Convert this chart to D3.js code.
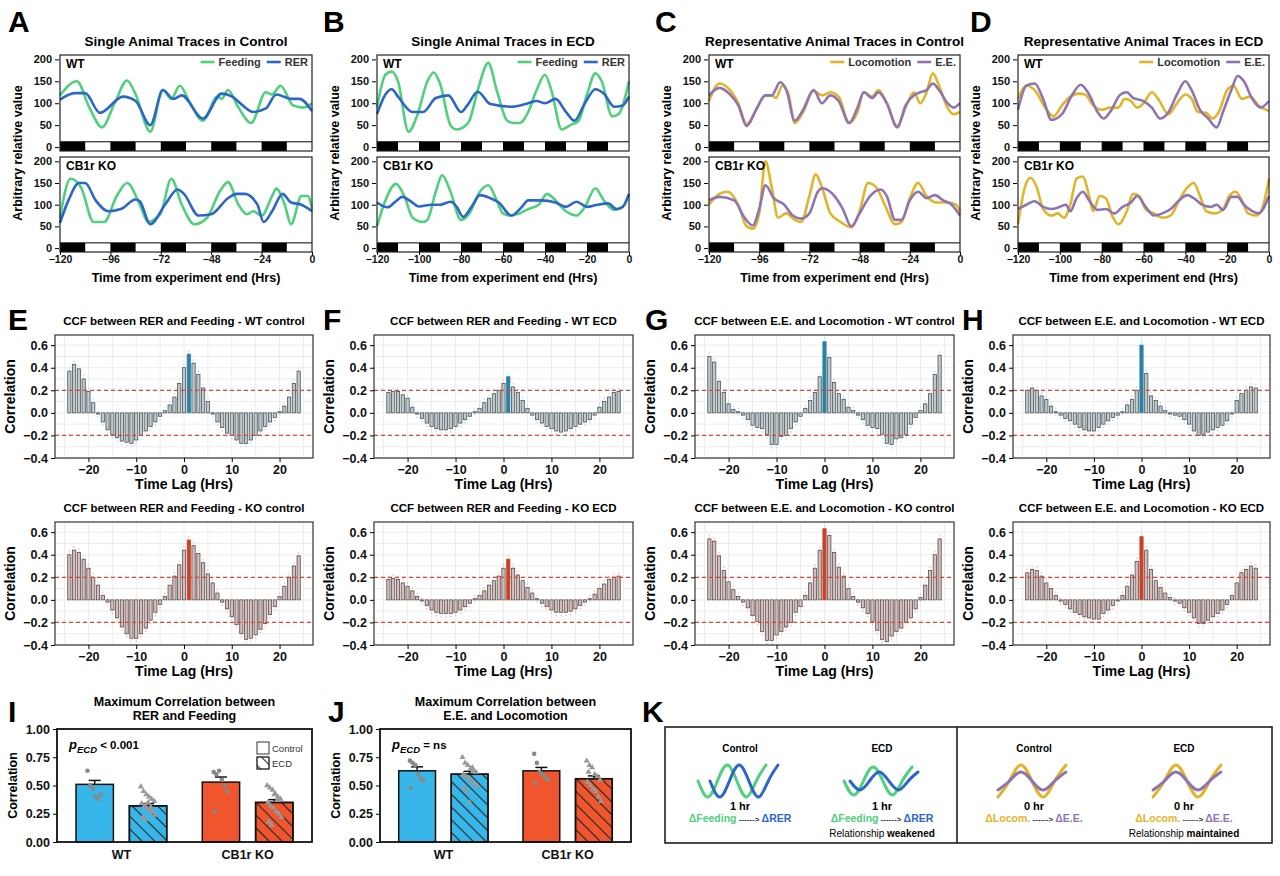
<!DOCTYPE html>
<html><head><meta charset="utf-8">
<script src="https://cdn.jsdelivr.net/npm/d3@7"></script>
<style>body{margin:0;background:#fff}svg{display:block}text{font-family:"Liberation Sans",Arial,sans-serif}</style>
</head><body><svg id="c" width="1280" height="876"></svg>
<script>
// ---------- DATA ----------
const A_WT_feed=[[-120,118],[-112,150],[-106,90],[-100,45],[-94,100],[-88,152],[-84,120],[-77,35],[-71,130],[-67,110],[-63,140],[-58,100],[-52,60],[-45,115],[-43,110],[-40,130],[-35,90],[-29,55],[-22,125],[-19,120],[-15,140],[-9,95],[-4,90],[0,100]];
const A_WT_rer=[[-120,108],[-113,123],[-108,123],[-101,78],[-90,115],[-84,105],[-77,50],[-71,130],[-66,110],[-62,118],[-52,65],[-43,122],[-38,115],[-33,95],[-28,80],[-22,88],[-17,120],[-10,110],[-6,110],[0,82]];
const A_KO_feed=[[-120,70],[-115,160],[-110,140],[-104,60],[-99,60],[-93,120],[-88,150],[-82,100],[-78,60],[-74,70],[-72,80],[-67,160],[-62,100],[-56,55],[-50,70],[-44,130],[-40,152],[-35,100],[-31,78],[-28,85],[-24,75],[-19,120],[-17,137],[-13,100],[-10,55],[-5,120],[-2,120],[0,90]];
const A_KO_rer=[[-120,58],[-116,110],[-111,150],[-108,150],[-103,110],[-97,85],[-91,90],[-84,112],[-82,108],[-77,55],[-70,100],[-64,135],[-61,125],[-54,75],[-48,78],[-40,115],[-36,125],[-32,125],[-26,100],[-23,60],[-19,85],[-14,125],[-10,105],[-5,100],[0,85]];
const B_WT_feed=[[-120,90],[-116,165],[-113,172],[-110,150],[-105,35],[-101,70],[-96,150],[-93,170],[-90,145],[-85,50],[-82,40],[-79,45],[-76,60],[-72,130],[-67,192],[-63,130],[-58,60],[-55,55],[-52,55],[-48,80],[-44,130],[-40,165],[-37,130],[-32,40],[-28,50],[-24,60],[-20,120],[-16,168],[-13,150],[-8,70],[-5,75],[0,150]];
const B_WT_rer=[[-120,75],[-116,120],[-113,132],[-110,115],[-103,80],[-98,80],[-92,112],[-86,118],[-80,80],[-77,95],[-72,126],[-66,98],[-56,92],[-48,100],[-44,105],[-40,100],[-35,110],[-30,80],[-26,60],[-21,100],[-16,132],[-12,122],[-7,92],[-3,95],[0,115]];
const B_KO_feed=[[-120,50],[-116,110],[-111,148],[-107,120],[-103,70],[-98,60],[-96,65],[-92,130],[-89,168],[-85,130],[-80,65],[-76,80],[-71,130],[-67,145],[-63,110],[-60,80],[-57,75],[-52,80],[-48,90],[-43,100],[-39,125],[-36,115],[-30,85],[-25,75],[-21,95],[-16,138],[-12,110],[-7,88],[-3,95],[0,125]];
const B_KO_rer=[[-120,105],[-115,94],[-111,108],[-108,118],[-104,108],[-100,96],[-94,100],[-90,100],[-85,107],[-82,95],[-79,72],[-75,95],[-71,122],[-66,115],[-62,105],[-56,75],[-51,95],[-48,110],[-42,110],[-35,105],[-30,95],[-25,107],[-20,95],[-15,100],[-10,103],[-6,90],[-3,95],[0,125]];
const C_WT_loco=[[-120,105],[-115,145],[-111,135],[-106,100],[-102,52],[-98,80],[-93,118],[-90,118],[-88,112],[-85,140],[-82,120],[-79,55],[-75,80],[-70,128],[-66,118],[-62,125],[-58,115],[-53,55],[-49,80],[-46,125],[-42,115],[-39,130],[-35,100],[-30,48],[-26,90],[-22,125],[-19,100],[-16,125],[-13,168],[-10,140],[-6,90],[-3,75],[0,80]];
const C_WT_ee=[[-120,118],[-115,135],[-110,120],[-106,95],[-102,48],[-97,90],[-93,118],[-90,118],[-86,148],[-83,130],[-79,60],[-75,85],[-70,130],[-66,100],[-62,118],[-58,105],[-53,55],[-49,90],[-46,125],[-42,112],[-39,125],[-35,100],[-30,45],[-26,95],[-22,118],[-19,125],[-16,130],[-13,145],[-10,130],[-6,100],[-3,90],[0,100]];
const C_KO_loco=[[-120,100],[-115,125],[-111,130],[-106,100],[-102,50],[-99,45],[-96,80],[-93,200],[-90,140],[-87,70],[-83,80],[-79,65],[-76,60],[-72,120],[-69,170],[-66,140],[-62,80],[-57,60],[-52,48],[-48,85],[-44,150],[-40,140],[-36,100],[-31,55],[-28,60],[-24,115],[-20,150],[-16,120],[-11,105],[-6,105],[-2,100],[0,85]];
const C_KO_ee=[[-120,110],[-115,118],[-108,110],[-103,70],[-99,52],[-96,90],[-93,145],[-89,115],[-84,100],[-80,75],[-76,68],[-72,80],[-68,130],[-66,138],[-60,120],[-56,90],[-52,50],[-48,80],[-43,120],[-38,135],[-35,120],[-31,65],[-28,65],[-24,110],[-20,130],[-16,115],[-12,122],[-8,110],[-4,100],[0,75]];
const D_WT_loco=[[-120,110],[-116,140],[-112,130],[-107,90],[-103,70],[-99,95],[-95,115],[-91,122],[-88,120],[-84,95],[-80,85],[-76,90],[-72,90],[-69,110],[-66,105],[-63,90],[-60,100],[-56,125],[-53,110],[-48,75],[-44,100],[-40,120],[-37,110],[-34,80],[-30,78],[-27,65],[-24,80],[-20,130],[-17,140],[-13,110],[-9,115],[-5,95],[0,82]];
const D_WT_ee=[[-120,85],[-116,140],[-112,145],[-108,110],[-104,62],[-99,75],[-94,120],[-90,142],[-86,120],[-82,80],[-79,65],[-76,80],[-71,120],[-68,125],[-65,112],[-60,105],[-56,90],[-52,65],[-48,80],[-44,120],[-40,150],[-37,130],[-33,85],[-29,65],[-25,45],[-22,80],[-18,130],[-15,162],[-12,150],[-8,110],[-4,90],[0,105]];
const D_KO_loco=[[-120,55],[-117,135],[-114,162],[-111,140],[-108,90],[-104,75],[-101,80],[-98,70],[-95,100],[-92,160],[-89,165],[-86,120],[-84,85],[-81,120],[-78,115],[-75,75],[-72,55],[-68,85],[-65,125],[-62,120],[-59,90],[-55,80],[-51,70],[-47,75],[-43,110],[-39,140],[-36,150],[-33,120],[-30,85],[-26,80],[-22,90],[-19,120],[-16,130],[-13,110],[-10,80],[-6,75],[-3,95],[0,160]];
const D_KO_ee=[[-120,90],[-116,100],[-112,108],[-108,95],[-104,90],[-100,95],[-97,100],[-95,85],[-92,115],[-89,130],[-86,110],[-82,88],[-78,90],[-74,80],[-70,95],[-66,105],[-63,120],[-59,95],[-55,75],[-51,80],[-47,90],[-43,110],[-39,122],[-36,115],[-32,100],[-28,95],[-25,100],[-22,88],[-18,118],[-15,118],[-12,100],[-8,85],[-5,80],[0,120]];
const ticks24=[-120,-96,-72,-48,-24,0], ticks20=[-120,-100,-80,-60,-40,-20,0];
const yTicksTrace=[0,50,100,150,200];

const lags=d3.range(-24,25);
const E_WT=[.37,.43,.39,.30,.19,.09,-.01,-.08,-.15,-.19,-.22,-.25,-.26,-.27,-.24,-.20,-.16,-.12,-.08,-.03,.02,.07,.14,.26,.40,.52,.44,.34,.22,.10,-.01,-.08,-.13,-.18,-.20,-.24,-.27,-.27,-.24,-.20,-.16,-.12,-.08,-.04,.01,.06,.14,.26,.37];
const E_KO=[.40,.44,.42,.36,.28,.20,.13,.04,-.02,-.09,-.16,-.24,-.30,-.34,-.34,-.30,-.25,-.18,-.11,-.04,.03,.13,.21,.31,.44,.53,.48,.41,.33,.23,.15,.06,-.02,-.08,-.15,-.22,-.30,-.35,-.34,-.31,-.26,-.21,-.13,-.06,.03,.12,.20,.30,.39];
const F_WT=[.18,.19,.19,.16,.13,.05,-.01,-.05,-.09,-.12,-.14,-.15,-.15,-.14,-.12,-.09,-.06,-.03,.01,.04,.09,.13,.17,.20,.26,.32,.23,.18,.11,.04,-.02,-.06,-.09,-.12,-.14,-.16,-.17,-.16,-.14,-.12,-.10,-.08,-.06,-.02,.05,.10,.14,.18,.19];
const F_KO=[.18,.19,.18,.15,.12,.08,.03,-.01,-.05,-.09,-.11,-.12,-.12,-.12,-.11,-.09,-.06,-.03,.01,.04,.08,.13,.17,.21,.28,.36,.28,.22,.17,.11,.06,.01,-.03,-.06,-.09,-.11,-.11,-.11,-.10,-.08,-.05,-.02,.01,.05,.10,.14,.18,.20,.21];
const G_WT=[.50,.45,.28,.18,.08,.03,.01,-.02,-.06,-.11,-.13,-.14,-.19,-.28,-.28,-.21,-.20,-.14,-.08,-.03,.04,.11,.18,.32,.63,.49,.27,.17,.12,.05,.02,-.02,-.06,-.11,-.13,-.14,-.19,-.27,-.28,-.23,-.22,-.19,-.10,-.04,.02,.08,.17,.34,.51];
const G_KO=[.54,.52,.39,.26,.16,.09,.03,-.02,-.07,-.14,-.19,-.28,-.36,-.36,-.31,-.28,-.24,-.20,-.11,-.06,.04,.15,.28,.44,.63,.57,.42,.29,.21,.10,.03,-.02,-.07,-.12,-.19,-.27,-.35,-.37,-.32,-.28,-.25,-.20,-.16,-.08,.02,.13,.26,.40,.54];
const H_WT=[.20,.22,.20,.15,.12,.06,.01,-.02,-.05,-.07,-.10,-.13,-.15,-.16,-.16,-.13,-.10,-.07,-.04,-.02,.01,.07,.12,.20,.60,.35,.15,.11,.06,.02,-.01,-.02,-.03,-.06,-.10,-.16,-.20,-.19,-.17,-.15,-.13,-.11,-.07,-.01,.11,.17,.20,.23,.22];
const H_KO=[.24,.27,.26,.21,.15,.10,.04,-.01,-.04,-.08,-.11,-.13,-.15,-.16,-.17,-.17,-.12,-.09,-.05,-.01,.04,.12,.22,.34,.56,.44,.27,.17,.11,.06,.02,-.01,-.03,-.07,-.11,-.16,-.21,-.21,-.18,-.15,-.12,-.09,-.04,.04,.15,.24,.27,.30,.28];

const groups=["WT","CB1r KO"], conds=["Control","ECD"];
const I_means=[.51,.32,.53,.35], I_sem=[.035,.02,.045,.025];
const J_means=[.63,.60,.63,.56], J_sem=[.035,.025,.03,.025];
const I_pts=[[.63,.50,.47,.40,.38,.42],[.49,.45,.42,.40,.38,.36,.34,.32,.30,.28,.26,.24,.22,.20,.35,.31],[.62,.60,.63,.55,.50,.45,.27],[.50,.48,.46,.43,.40,.38,.35,.32,.30,.27,.25,.22,.18,.15,.42,.37]];
const J_pts=[[.72,.70,.68,.60,.56,.54,.48],[.75,.70,.68,.65,.63,.62,.60,.58,.56,.54,.52,.50,.48,.45,.35,.66],[.78,.70,.62,.60,.57,.55,.52],[.72,.68,.66,.60,.58,.55,.53,.50,.47,.45,.40,.36,.62]];
const barTicks=[0,.25,.5,.75,1];
// schematic wave key points (quarter-cycle steps)
const waveBig=[0,1,0,-1,0,1,0,-1,0,1,0];

// ---------- DRAW ----------
const svg=d3.select("#c");
const defs=svg.append("defs");
const C={feed:"#4fd07c",rer:"#2c66c9",loco:"#e2b42a",ee:"#8f74b2",blue:"#37b6e9",red:"#f0562d"};
const p=defs.append("pattern").attr("id","h1").attr("patternUnits","userSpaceOnUse").attr("width",9).attr("height",9).attr("patternTransform","rotate(-45)");
p.append("line").attr("x1",0).attr("y1",0).attr("x2",0).attr("y2",9).attr("stroke","#222").attr("stroke-width",2.2);

function letter(t,x,y){svg.append("text").attr("x",x).attr("y",y).attr("font-size",30).attr("font-weight","bold").text(t);}
function title(t,x,y,fs){svg.append("text").attr("x",x).attr("y",y).attr("text-anchor","middle").attr("font-size",fs||13.5).attr("font-weight","bold").text(t);}

function traceSub(x0,x1,yt,yb,series,label,legend,cyc,xTicks,showX){
  const x=d3.scaleLinear().domain([-120,0]).range([x0,x1]);
  const y=d3.scaleLinear().domain([-9,210]).range([yb,yt]);
  const g=svg.append("g");
  for(let s=-120;s<0;s+=cyc){
    g.append("rect").attr("x",x(s)).attr("y",y(12)).attr("width",x(s+cyc/2)-x(s)).attr("height",y(-9)-y(12)).attr("fill","#000");
  }
  const line=d3.line().x(d=>x(d[0])).y(d=>y(d[1])).curve(d3.curveMonotoneX);
  series.forEach(s=>g.append("path").attr("d",line(s.d)).attr("fill","none").attr("stroke",s.c).attr("stroke-width",2.6).attr("stroke-linejoin","round"));
  g.append("line").attr("x1",x0).attr("x2",x1).attr("y1",y(12)).attr("y2",y(12)).attr("stroke","#000").attr("stroke-width",1);
  g.append("rect").attr("x",x0).attr("y",yt).attr("width",x1-x0).attr("height",yb-yt).attr("fill","none").attr("stroke","#222").attr("stroke-width",1.2);
  const ya=g.append("g").attr("transform",`translate(${x0-1},0)`).call(d3.axisLeft(y).tickValues(yTicksTrace).tickSize(4).tickSizeOuter(0));
  ya.select(".domain").remove();
  ya.selectAll("text").attr("font-size",11).attr("font-weight","bold").attr("fill","#111");
  g.append("text").attr("x",x0+6).attr("y",yt+13).attr("font-size",12).attr("font-weight","bold").text(label);
  if(legend){
    let lx=x1-4;
    legend.slice().reverse().forEach(it=>{
      const t=g.append("text").attr("x",lx).attr("y",yt+11).attr("text-anchor","end").attr("font-size",11).attr("font-weight","bold").attr("fill","#333").text(it.n);
      const w=t.node().getComputedTextLength();
      g.append("line").attr("x1",lx-w-18).attr("x2",lx-w-4).attr("y1",yt+7).attr("y2",yt+7).attr("stroke",it.c).attr("stroke-width",2.6);
      lx=lx-w-24;
    });
  }
  if(showX){
    const xa=g.append("g").attr("transform",`translate(0,${yb})`).call(d3.axisBottom(x).tickValues(xTicks).tickSize(3).tickPadding(1).tickSizeOuter(0));
    xa.select(".domain").remove();
    xa.selectAll("text").attr("font-size",10.5).attr("font-weight","bold").attr("fill","#111");
    g.append("text").attr("x",(x0+x1)/2).attr("y",yb+30).attr("text-anchor","middle").attr("font-size",12.5).attr("font-weight","bold").text("Time from experiment end (Hrs)");
  }
}
function tracePanel(x0,x1,t,wt,ko,legend,cyc,xt){
  title(t,(x0+x1)/2,46);
  traceSub(x0,x1,55,151,wt,"WT",legend,cyc,xt,false);
  traceSub(x0,x1,157,252,ko,"CB1r KO",null,cyc,xt,true);
  svg.append("text").attr("transform",`translate(${x0-38},153) rotate(-90)`).attr("text-anchor","middle").attr("font-size",12.5).attr("font-weight","bold").text("Arbitrary relative value");
}
const lgFR=[{n:"Feeding",c:C.feed},{n:"RER",c:C.rer}], lgLE=[{n:"Locomotion",c:C.loco},{n:"E.E.",c:C.ee}];
tracePanel(60,312,"Single Animal Traces in Control",[{d:A_WT_feed,c:C.feed},{d:A_WT_rer,c:C.rer}],[{d:A_KO_feed,c:C.feed},{d:A_KO_rer,c:C.rer}],lgFR,24,ticks24);
tracePanel(377,629,"Single Animal Traces in ECD",[{d:B_WT_feed,c:C.feed},{d:B_WT_rer,c:C.rer}],[{d:B_KO_feed,c:C.feed},{d:B_KO_rer,c:C.rer}],lgFR,20,ticks20);
tracePanel(709,960,"Representative Animal Traces in Control",[{d:C_WT_loco,c:C.loco},{d:C_WT_ee,c:C.ee}],[{d:C_KO_loco,c:C.loco},{d:C_KO_ee,c:C.ee}],lgLE,24,ticks24);
tracePanel(1018,1269,"Representative Animal Traces in ECD",[{d:D_WT_loco,c:C.loco},{d:D_WT_ee,c:C.ee}],[{d:D_KO_loco,c:C.loco},{d:D_KO_ee,c:C.ee}],lgLE,20,ticks20);

function ccf(x0,x1,yt,yb,vals,t,ko){
  const x=d3.scaleLinear().domain([-27,27]).range([x0,x1]);
  const y=d3.scaleLinear().domain([-0.4,0.69]).range([yb,yt]);
  const g=svg.append("g");
  title(t,(x0+x1)/2,yt-10,11.5);
  d3.range(-25,26,5).forEach(v=>g.append("line").attr("x1",x(v)).attr("x2",x(v)).attr("y1",yt).attr("y2",yb).attr("stroke","#ececec"));
  d3.range(-0.4,0.7,0.1).forEach(v=>g.append("line").attr("x1",x0).attr("x2",x1).attr("y1",y(v)).attr("y2",y(v)).attr("stroke","#ececec"));
  const peak=d3.maxIndex(vals);
  const bw=(x(1)-x(0))*0.68;
  const fill=ko?"#d9bcb8":"#b9cbd1", hi=ko?"#c9432a":"#2b82a4", eb=ko?"#f2b9ae":"#a9dcef";
  vals.forEach((v,i)=>{
    const L=lags[i];
    g.append("line").attr("x1",x(L)).attr("x2",x(L)).attr("y1",y(v+(v>=0?.035:-.035))).attr("y2",y(v-(v>=0?.035:-.035))).attr("stroke",eb).attr("stroke-width",1.2).attr("stroke-dasharray","1.5,1.5");
    g.append("rect").attr("x",x(L)-bw/2).attr("width",bw).attr("y",y(Math.max(0,v))).attr("height",Math.abs(y(v)-y(0))).attr("fill",i===peak?hi:fill).attr("stroke",i===peak?hi:"#555").attr("stroke-width",0.8);
  });
  [0.2,-0.2].forEach(v=>g.append("line").attr("x1",x0).attr("x2",x1).attr("y1",y(v)).attr("y2",y(v)).attr("stroke","#d9463f").attr("stroke-width",1.3).attr("stroke-dasharray","4,3"));
  g.append("rect").attr("x",x0).attr("y",yt).attr("width",x1-x0).attr("height",yb-yt).attr("fill","none").attr("stroke","#333").attr("stroke-width",1.2);
  const ya=g.append("g").attr("transform",`translate(${x0},0)`).call(d3.axisLeft(y).tickValues([-.4,-.2,0,.2,.4,.6]).tickFormat(d3.format(".1f")).tickSize(4).tickSizeOuter(0));
  ya.select(".domain").remove(); ya.selectAll("text").attr("font-size",12.5).attr("font-weight","bold").attr("fill","#111");
  const xa=g.append("g").attr("transform",`translate(0,${yb})`).call(d3.axisBottom(x).tickValues([-20,-10,0,10,20]).tickSize(4).tickSizeOuter(0));
  xa.select(".domain").remove(); xa.selectAll("text").attr("font-size",12.5).attr("font-weight","bold").attr("fill","#111");
  g.append("text").attr("x",(x0+x1)/2).attr("y",yb+31).attr("text-anchor","middle").attr("font-size",14).attr("font-weight","bold").text("Time Lag (Hrs)");
  g.append("text").attr("transform",`translate(${x0-40},${(yt+yb)/2}) rotate(-90)`).attr("text-anchor","middle").attr("font-size",14).attr("font-weight","bold").text("Correlation");
}
const ccfs=[[55,313,E_WT,E_KO,"RER and Feeding","control"],[374,633,F_WT,F_KO,"RER and Feeding","ECD"],[695,954,G_WT,G_KO,"E.E. and Locomotion","control"],[1013,1270,H_WT,H_KO,"E.E. and Locomotion","ECD"]];
ccfs.forEach(c=>{ccf(c[0],c[1],335,458,c[2],`CCF between ${c[4]} - WT ${c[5]}`,false);ccf(c[0],c[1],522,645,c[3],`CCF between ${c[4]} - KO ${c[5]}`,true);});

function barPanel(x0,x1,t1,t2,means,sem,pts,ptxt,legend){
  const yt=729,yb=842;
  const y=d3.scaleLinear().domain([0,1]).range([yb,yt]);
  const gx=d3.scaleBand().domain(groups).range([x0,x1]).paddingInner(0.18).paddingOuter(0.1);
  const cx=d3.scaleBand().domain(conds).range([0,gx.bandwidth()]).paddingInner(0.3).paddingOuter(0.12);
  const g=svg.append("g");
  title(t1,(x0+x1)/2,706,12.5);title(t2,(x0+x1)/2,720,12.5);
  means.forEach((m,i)=>{
    const gr=groups[Math.floor(i/2)], cd=conds[i%2];
    const bx=gx(gr)+cx(cd), w=cx.bandwidth(), col=gr==="WT"?C.blue:C.red;
    g.append("rect").attr("x",bx).attr("y",y(m)).attr("width",w).attr("height",y(0)-y(m)).attr("fill",col).attr("stroke","#111").attr("stroke-width",1.5);
    if(cd==="ECD") g.append("rect").attr("x",bx).attr("y",y(m)).attr("width",w).attr("height",y(0)-y(m)).attr("fill","url(#h1)").attr("stroke","#111").attr("stroke-width",1.5);
    g.append("line").attr("x1",bx+w/2).attr("x2",bx+w/2).attr("y1",y(m)).attr("y2",y(m+sem[i])).attr("stroke","#111").attr("stroke-width",1.5);
    g.append("line").attr("x1",bx+w/2-6).attr("x2",bx+w/2+6).attr("y1",y(m+sem[i])).attr("y2",y(m+sem[i])).attr("stroke","#111").attr("stroke-width",1.5);
    pts[i].forEach((pv,k)=>{
      const px=bx+w/2+((k*37)%17-8)*0.9;
      if(cd==="Control") g.append("circle").attr("cx",px).attr("cy",y(pv)).attr("r",2.3).attr("fill","#888");
      else g.append("path").attr("d",d3.symbol(d3.symbolTriangle,16)()).attr("transform",`translate(${px},${y(pv)})`).attr("fill","#999");
    });
  });
  g.append("rect").attr("x",x0).attr("y",yt).attr("width",x1-x0).attr("height",yb-yt).attr("fill","none").attr("stroke","#111").attr("stroke-width",1.8);
  const ya=g.append("g").attr("transform",`translate(${x0},0)`).call(d3.axisLeft(y).tickValues(barTicks).tickFormat(d3.format(".2f")).tickSize(4).tickSizeOuter(0));
  ya.select(".domain").remove(); ya.selectAll("text").attr("font-size",12.5).attr("font-weight","bold").attr("fill","#111");
  const xa=g.append("g").attr("transform",`translate(0,${yb})`).call(d3.axisBottom(gx).tickSize(0));
  xa.select(".domain").remove(); xa.selectAll("text").attr("font-size",12.5).attr("font-weight","bold").attr("fill","#111").attr("dy","1.1em");
  g.append("text").attr("transform",`translate(${x0-40},${(yt+yb)/2}) rotate(-90)`).attr("text-anchor","middle").attr("font-size",12.5).attr("font-weight","bold").text("Correlation");
  const pt=g.append("text").attr("x",x0+12).attr("y",yt+20).attr("font-size",13).attr("font-weight","bold");
  pt.append("tspan").attr("font-style","italic").text("p");
  pt.append("tspan").attr("font-size",9.5).attr("font-style","italic").attr("dy",4).text("ECD");
  pt.append("tspan").attr("dy",-4).attr("font-size",11.5).text(" "+ptxt);
  if(legend){
    conds.forEach((c,k)=>{
      const ly=yt+13+k*15;
      g.append("rect").attr("x",x1-55).attr("y",ly).attr("width",12).attr("height",12).attr("fill","#fff").attr("stroke","#333");
      if(k) g.append("rect").attr("x",x1-55).attr("y",ly).attr("width",12).attr("height",12).attr("fill","url(#h1)").attr("stroke","#333");
      g.append("text").attr("x",x1-40).attr("y",ly+10).attr("font-size",9.5).attr("fill","#333").text(c);
    });
  }
}
barPanel(57,312,"Maximum Correlation between","RER and Feeding",I_means,I_sem,I_pts,"< 0.001",true);
barPanel(380,631,"Maximum Correlation between","E.E. and Locomotion",J_means,J_sem,J_pts,"= ns",false);

// K schematic
const K={x0:665,x1:1272,y0:727,y1:843,mid:957};
svg.append("rect").attr("x",K.x0).attr("y",K.y0).attr("width",K.x1-K.x0).attr("height",K.y1-K.y0).attr("fill","none").attr("stroke","#111").attr("stroke-width",1.5);
svg.append("line").attr("x1",K.mid).attr("x2",K.mid).attr("y1",K.y0).attr("y2",K.y1).attr("stroke","#111").attr("stroke-width",1.5);
function wave(cx,amp,start,n,shift,col){
  const pts=waveBig.slice(start,start+n+1);
  const x=d3.scaleLinear().domain([0,n]).range([cx-34+shift,cx+34+shift]);
  const y=d3.scaleLinear().domain([-1,1]).range([781+amp,781-amp]);
  svg.append("path").attr("d",d3.line().x((d,i)=>x(i)).y(d=>y(d)).curve(d3.curveNatural)(pts)).attr("fill","none").attr("stroke",col).attr("stroke-width",3).attr("stroke-linecap","round");
}
function kText(cx,head,lag,a,ca,b,cb,rel){
  svg.append("text").attr("x",cx).attr("y",752).attr("text-anchor","middle").attr("font-size",10).attr("font-weight","bold").text(head);
  svg.append("text").attr("x",cx).attr("y",810).attr("text-anchor","middle").attr("font-size",11).attr("font-weight","bold").text(lag);
  const t=svg.append("text").attr("x",cx).attr("y",822).attr("text-anchor","middle").attr("font-size",10.5).attr("font-weight","bold");
  t.append("tspan").attr("fill",ca).text(a);t.append("tspan").attr("fill","#333").attr("font-size",8).text(" ------> ");t.append("tspan").attr("fill",cb).text(b);
  if(rel){const r=svg.append("text").attr("x",cx).attr("y",837).attr("text-anchor","middle").attr("font-size",10);r.append("tspan").text("Relationship ");r.append("tspan").attr("font-weight","bold").text(rel);}
}
wave(732,16,2,7,0,C.feed);wave(732,16,2,7,12,C.rer);
wave(878,14,2,7,0,C.feed);wave(878,9,2,7,6,C.rer);
wave(1032,16,3,6,0,C.loco);wave(1032,9,3,6,0,C.ee);
wave(1187,16,3,6,0,C.loco);wave(1187,9,3,6,0,C.ee);
kText(740,"Control","1 hr","ΔFeeding",C.feed,"ΔRER",C.rer,null);
kText(882,"ECD","1 hr","ΔFeeding",C.feed,"ΔRER",C.rer,"weakened");
kText(1034,"Control","0 hr","ΔLocom.",C.loco,"ΔE.E.",C.ee,null);
kText(1184,"ECD","0 hr","ΔLocom.",C.loco,"ΔE.E.",C.ee,"maintained");

letter("A",8,32);letter("B",323,32);letter("C",655,32);letter("D",970,32);
letter("E",8,330);letter("F",323,330);letter("G",645,330);letter("H",962,330);
letter("I",8,722);letter("J",328,722);letter("K",642,722);
</script></body></html>
